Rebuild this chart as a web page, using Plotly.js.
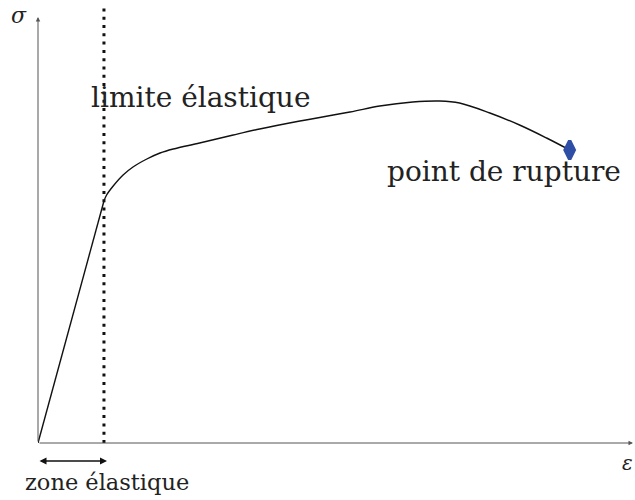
<!DOCTYPE html>
<html>
<head>
<meta charset="utf-8">
<script src="https://cdn.plot.ly/plotly-3.0.1.min.js"></script>
<style>html,body{margin:0;padding:0;background:#fff;}#chart{width:635px;height:500px;}</style>
</head>
<body>
<div id="chart"></div>
<script>
// Data (strain in arbitrary units, stress in arbitrary units)
const elasticStrain = [0, 1.0];
const elasticStress = [0, 242];
const plasticStrain = [1.0, 1.04, 1.14, 1.29, 1.44, 1.65, 1.85, 2.05, 2.45, 2.96, 3.36, 3.97, 4.73, 5.18, 5.68, 6.09, 6.39, 6.85, 7.30, 7.71, 8.06];
const plasticStress = [242, 248, 257, 268, 276, 284, 290, 294, 300, 308, 314, 322, 331, 337, 341, 342, 340, 330, 318, 305, 293];
const ruptureStrain = [8.06];
const ruptureStress = [293];
const elasticLimitStrain = 1.0;
const labels = {
  limit: 'limite élastique',
  rupture: 'point de rupture',
  zone: 'zone élastique',
  sigma: 'σ',
  eps: 'ε'
};

const xMax = 9.02, yMax = 438;
const serif = 'DejaVu Serif';
const textColor = '#222';

const traces = [
  {x: elasticStrain, y: elasticStress, mode: 'lines', line: {color: '#111', width: 1.4}, hoverinfo: 'skip'},
  {x: plasticStrain, y: plasticStress, mode: 'lines', line: {color: '#111', width: 1.4, shape: 'spline', smoothing: 1}, hoverinfo: 'skip'},
  {x: ruptureStrain, y: ruptureStress, mode: 'markers',
   marker: {symbol: 'diamond-tall', size: 13, color: '#2f4fa6', line: {color: '#2f4fa6', width: 3.5}}, hoverinfo: 'skip'}
];

const layout = {
  width: 635, height: 500,
  margin: {l: 38, r: 2, t: 5, b: 57},
  paper_bgcolor: '#fff', plot_bgcolor: '#fff',
  showlegend: false,
  font: {family: serif},
  xaxis: {range: [0, xMax], showgrid: false, zeroline: false, showticklabels: false, ticks: '', showline: false, fixedrange: true},
  yaxis: {range: [0, yMax], showgrid: false, zeroline: false, showticklabels: false, ticks: '', showline: false, fixedrange: true},
  shapes: [
    {type: 'line', xref: 'x', yref: 'paper', x0: elasticLimitStrain, x1: elasticLimitStrain, y0: 0, y1: 1,
     line: {color: '#111', width: 3, dash: '3px,5.3px'}}
  ],
  annotations: [
    // x axis arrow
    {xref: 'x', yref: 'y', axref: 'x', ayref: 'y', x: xMax, y: 0, ax: 0, ay: 0, text: '', showarrow: true,
     arrowhead: 2, arrowsize: 0.9, arrowwidth: 1, arrowcolor: '#555'},
    // y axis arrow
    {xref: 'x', yref: 'y', axref: 'x', ayref: 'y', x: 0, y: 426, ax: 0, ay: 0, text: '', showarrow: true,
     arrowhead: 2, arrowsize: 0.9, arrowwidth: 1, arrowcolor: '#555'},
    // zone élastique double arrow (below the axis, paper coords)
    {xref: 'paper', yref: 'paper', x: 0.116, y: -0.041, ax: -69, ay: 0, text: '', showarrow: true,
     arrowhead: 2, startarrowhead: 2, arrowside: 'end+start', arrowsize: 1, startarrowsize: 1, arrowwidth: 1.4, arrowcolor: '#111'},
    {xref: 'x', yref: 'y', x: 0.77, y: 346, xanchor: 'left', yanchor: 'middle', text: labels.limit, showarrow: false,
     font: {family: serif, size: 28, color: textColor}},
    {xref: 'x', yref: 'y', x: 5.26, y: 272, xanchor: 'left', yanchor: 'middle', text: labels.rupture, showarrow: false,
     font: {family: serif, size: 28, color: textColor}},
    {xref: 'paper', yref: 'paper', x: -0.025, y: -0.09, xanchor: 'left', yanchor: 'middle', text: labels.zone, showarrow: false,
     font: {family: serif, size: 22.5, color: textColor}},
    {xref: 'paper', yref: 'paper', x: -0.032, y: 0.975, xanchor: 'center', yanchor: 'middle', text: '<i>' + labels.sigma + '</i>', showarrow: false,
     font: {family: serif, size: 22, color: textColor}},
    {xref: 'paper', yref: 'paper', x: 1.003, y: -0.045, xanchor: 'right', yanchor: 'middle', text: '<i>' + labels.eps + '</i>', showarrow: false,
     font: {family: serif, size: 20, color: textColor}}
  ]
};

Plotly.newPlot('chart', traces, layout, {staticPlot: true, displayModeBar: false});
</script>
</body>
</html>
